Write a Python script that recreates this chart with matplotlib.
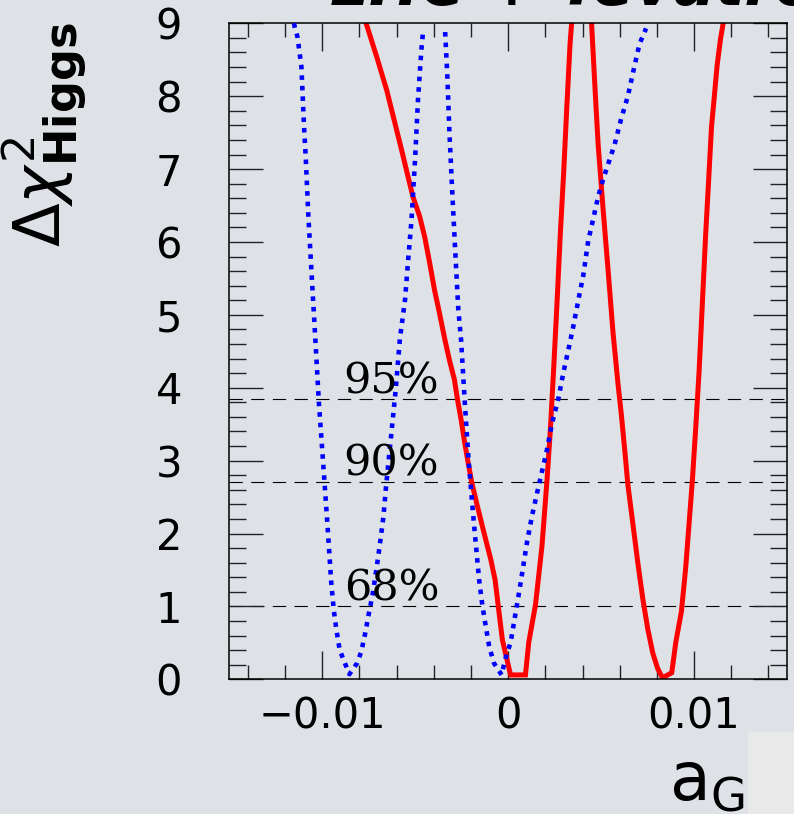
import matplotlib
matplotlib.use('Agg')
import matplotlib.pyplot as plt
from matplotlib.ticker import MultipleLocator, FixedLocator, FixedFormatter
from matplotlib.patches import Rectangle

# ---- curves ----
blue1_x = [-0.01152, -0.01148, -0.01133, -0.01112, -0.01098, -0.01089, -0.01075, -0.01057,
           -0.01039, -0.01018, -0.00995, -0.00973, -0.00952, -0.00938, -0.00924, -0.00906,
           -0.00881, -0.00854, -0.00813, -0.00790, -0.00769, -0.00751, -0.00728, -0.00707,
           -0.00689, -0.00671, -0.00657, -0.00630, -0.00605, -0.00582, -0.00555, -0.00538,
           -0.00520, -0.00501, -0.00485, -0.00467, -0.00458]
blue1_y = [9.00, 8.95, 8.81, 8.40, 7.58, 7.17, 6.37, 5.55,
           4.75, 3.79, 2.96, 2.16, 1.34, 0.95, 0.68, 0.40,
           0.24, 0.07, 0.22, 0.38, 0.63, 0.88, 1.18, 1.54,
           1.87, 2.23, 2.64, 3.33, 3.97, 4.68, 5.20, 5.75,
           6.30, 7.12, 7.95, 8.63, 8.88]

blue2_x = [-0.00339, -0.00328, -0.00316, -0.00301, -0.00285, -0.00268, -0.00253, -0.00234,
           -0.00213, -0.00186, -0.00156, -0.00138, -0.00120, -0.00102, -0.00076, -0.00035,
           -0.00019, -0.00005, 0.00013, 0.00040, 0.00058, 0.00075, 0.00102, 0.00129,
           0.00155, 0.00182, 0.00209, 0.00235, 0.00271, 0.00298, 0.00324, 0.00351,
           0.00378, 0.00404, 0.00431, 0.00458, 0.00484, 0.00511, 0.00538, 0.00573,
           0.00609, 0.00644, 0.00680, 0.00707, 0.00742]
blue2_y = [8.88, 8.33, 7.51, 6.70, 5.89, 5.07, 4.65, 3.83,
           3.01, 2.19, 1.36, 1.00, 0.72, 0.45, 0.22, 0.06,
           0.24, 0.37, 0.50, 0.91, 1.18, 1.45, 1.89, 2.25,
           2.55, 2.85, 3.15, 3.50, 3.86, 4.22, 4.52, 4.85,
           5.21, 5.54, 6.02, 6.32, 6.62, 6.86, 7.07, 7.34,
           7.70, 8.00, 8.42, 8.72, 8.93]

red1_x = [-0.00764, -0.00707, -0.00653, -0.00609, -0.00573, -0.00538, -0.00512, -0.00476,
          -0.00449, -0.00422, -0.00396, -0.00369, -0.00342, -0.00316, -0.00289, -0.00272,
          -0.00253, -0.00236, -0.00218, -0.00195, -0.00165, -0.00129, -0.00093, -0.00070,
          -0.00053, -0.00031, 0.00013, 0.00093, 0.00111, 0.00147, 0.00182, 0.00209,
          0.00227, 0.00244, 0.00262, 0.00280, 0.00298, 0.00315, 0.00333, 0.00342]
red1_y = [9.00, 8.54, 8.08, 7.63, 7.26, 6.89, 6.62, 6.35,
          6.07, 5.71, 5.34, 5.02, 4.68, 4.38, 4.11, 3.83,
          3.56, 3.28, 3.01, 2.69, 2.37, 2.00, 1.64, 1.36,
          1.00, 0.54, 0.06, 0.06, 0.51, 1.02, 1.83, 2.73,
          3.42, 4.22, 5.12, 6.08, 6.92, 7.82, 8.72, 9.02]

red2_x = [0.00449, 0.00467, 0.00484, 0.00511, 0.00538, 0.00564, 0.00591, 0.00609,
          0.00627, 0.00644, 0.00671, 0.00698, 0.00724, 0.00751, 0.00778, 0.00804,
          0.00830, 0.00880, 0.00902, 0.00932, 0.00955, 0.00973, 0.00991, 0.01009,
          0.01027, 0.01044, 0.01062, 0.01080, 0.01094, 0.01107, 0.01124, 0.01142, 0.01156]
red2_y = [8.99, 8.12, 7.34, 6.44, 5.60, 4.76, 4.05, 3.63,
          3.15, 2.67, 2.13, 1.59, 1.11, 0.69, 0.36, 0.15,
          0.02, 0.09, 0.51, 0.93, 1.53, 2.13, 2.73, 3.45,
          4.22, 5.12, 6.08, 6.92, 7.58, 7.94, 8.42, 8.78, 8.99]

cl_levels = [1.0, 2.71, 3.84]
cl_labels = ['68%', '90%', '95%']

xtick_vals = [-0.01, 0.0, 0.01]
xtick_labels = ['\u22120.01', '0', '0.01']

bg = '#dee2e7'

fig = plt.figure(figsize=(7.94, 8.14), dpi=100)
fig.patch.set_facecolor(bg)
# lighter corner of the slide background
fig.patches.append(Rectangle((748 / 794, 0), 46 / 794, 82 / 814, transform=fig.transFigure,
                             facecolor='#e9e9ea', edgecolor='none', zorder=0))

ax = fig.add_axes([229.3 / 794, 1 - 679.3 / 814, (787 - 229.3) / 794, (679.3 - 23.3) / 814])
ax.set_facecolor('none')

for lev, lab in zip(cl_levels, cl_labels):
    ax.axhline(lev, color='black', lw=0.8, linestyle=(0, (12, 7.5)), zorder=1)
    ax.text(-0.00885, lev + 0.085, lab, fontsize=31, family='DejaVu Serif',
            ha='left', va='baseline', zorder=4)

for xs, ys in [(blue1_x, blue1_y), (blue2_x, blue2_y)]:
    ax.plot(xs, ys, color='#0000ff', lw=3.3, linestyle=(0, (1, 1.3)),
            dash_capstyle='butt', zorder=3)
for xs, ys in [(red1_x, red1_y), (red2_x, red2_y)]:
    ax.plot(xs, ys, color='#ff0000', lw=3.6, solid_joinstyle='miter', zorder=2)

ax.set_xlim(-0.015, 0.015)
ax.set_ylim(0, 9)

ax.xaxis.set_major_locator(FixedLocator(xtick_vals))
ax.xaxis.set_major_formatter(FixedFormatter(xtick_labels))
ax.xaxis.set_minor_locator(MultipleLocator(0.002))
ax.yaxis.set_major_locator(MultipleLocator(1))
ax.yaxis.set_minor_locator(MultipleLocator(0.2))

ax.tick_params(which='both', direction='in', top=True, right=True, color='#222222')
ax.tick_params(axis='x', which='major', length=20, width=1.0, pad=12, labelsize=30)
ax.tick_params(axis='x', which='minor', length=10, width=1.0)
ax.tick_params(axis='y', which='major', length=24.5, width=1.0, pad=34, labelsize=30)
ax.tick_params(axis='y', which='minor', length=12.2, width=1.0)
for s in ax.spines.values():
    s.set_linewidth(1.1)

fig.text(45 / 794, 1 - 135 / 814, r'$\Delta\chi^{2}_{\mathbf{Higgs}}$', rotation=90,
         fontsize=46, ha='center', va='center')
fig.text(745 / 794, 1 - 800 / 814, r'$\mathrm{a}_{\mathrm{G}}$', fontsize=48,
         ha='right', va='baseline')
fig.text(330 / 794, 1 - 4.5 / 814, 'LHC + Tevatron', fontsize=44, fontweight='bold',
         fontstyle='italic', ha='left', va='baseline')

fig.savefig('out.png', dpi=100, facecolor=bg)
